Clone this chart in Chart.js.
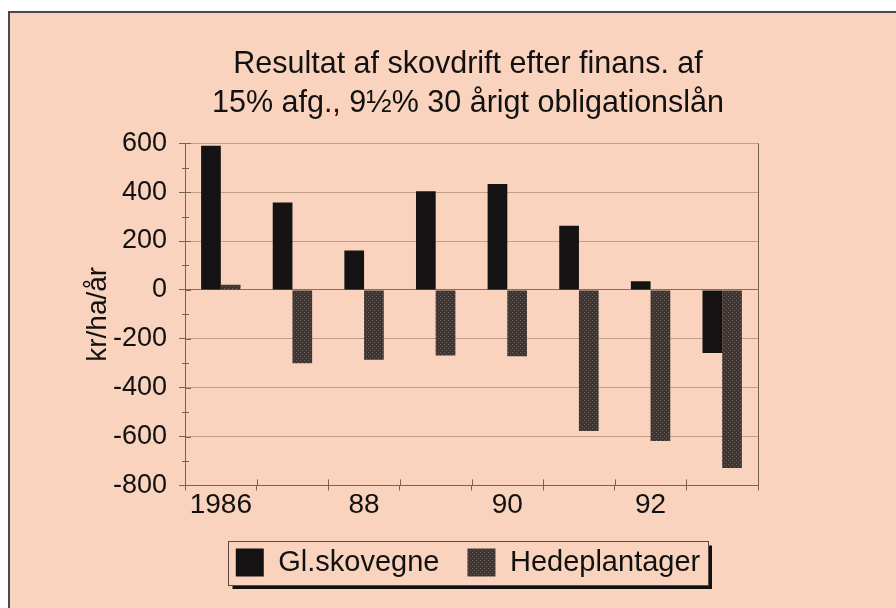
<!DOCTYPE html>
<html>
<head>
<meta charset="utf-8">
<script src="https://cdn.jsdelivr.net/npm/chart.js@4/dist/chart.umd.min.js"></script>
<style>
  body { margin: 0; background: #fff; }
  #wrap { width: 896px; height: 608px; }
</style>
</head>
<body>
<div id="wrap"><canvas id="myChart" width="896" height="608"></canvas></div>
<script>
// data
const categories = ['1986', '1987', '1988', '1989', '1990', '1991', '1992', '1993'];
const tickLabels = ['1986', '', '88', '', '90', '', '92', ''];
const glSkovegne = [590, 358, 161, 404, 433, 262, 35, -258];
const hedeplantager = [21, -300, -286, -268, -272, -577, -618, -729];
const yMin = -800;
const yMax = 600;
const yStep = 200;

const bg = '#f9d3bd';
const lineCol = '#7a6252';

// dotted dark fill for Hedeplantager
function makeHatch() {
    const c = document.createElement('canvas');
    c.width = 4;
    c.height = 4;
    const g = c.getContext('2d');
    g.fillStyle = '#3d3534';
    g.fillRect(0, 0, 4, 4);
    g.fillStyle = '#6e625d';
    g.fillRect(0, 0, 1, 1);
    g.fillRect(2, 2, 1, 1);
    return g.createPattern(c, 'repeat');
}

const framePlugin = {
    id: 'frame',
    beforeDraw(chart) {
        const ctx = chart.ctx;
        ctx.save();
        ctx.fillStyle = '#fff';
        ctx.fillRect(0, 0, chart.width, chart.height);
        ctx.fillStyle = bg;
        ctx.fillRect(8, 11, chart.width - 8, chart.height - 11);
        ctx.strokeStyle = '#4a4a4a';
        ctx.lineWidth = 2;
        ctx.beginPath();
        ctx.moveTo(9, chart.height);
        ctx.lineTo(9, 12);
        ctx.lineTo(chart.width, 12);
        ctx.stroke();
        ctx.restore();
    },
    afterDraw(chart) {
        const ctx = chart.ctx;
        const a = chart.chartArea;
        const y = chart.scales.y;
        ctx.save();
        ctx.strokeStyle = lineCol;
        ctx.lineWidth = 1;
        ctx.beginPath();
        // right border of plot
        ctx.moveTo(a.right + 0.5, a.top);
        ctx.lineTo(a.right + 0.5, a.bottom);
        // y ticks crossing into plot + minor ticks
        for (let v = yMin; v <= yMax; v += yStep / 2) {
            const py = Math.round(y.getPixelForValue(v)) + 0.5;
            const major = (v % yStep) === 0;
            ctx.moveTo(a.left - (major ? 0 : 3), py);
            ctx.lineTo(a.left + (major ? 6 : 4), py);
        }
        // x ticks crossing up into plot
        const n = categories.length;
        for (let i = 1; i < n; i++) {
            const px = Math.round(a.left + i * (a.right - a.left) / n) + 0.5;
            ctx.moveTo(px, a.bottom - 6);
            ctx.lineTo(px, a.bottom);
        }
        ctx.stroke();

        // legend frame with shadow
        const boxes = chart.legend.legendHitBoxes;
        if (boxes && boxes.length) {
            let l = Infinity, r = -Infinity, t = Infinity, b = -Infinity;
            boxes.forEach(h => {
                l = Math.min(l, h.left);
                r = Math.max(r, h.left + h.width);
                t = Math.min(t, h.top);
                b = Math.max(b, h.top + h.height);
            });
            l = Math.round(l - 8) + 0.5;
            r = Math.round(r + 8) + 0.5;
            t = Math.round(t - 7) + 0.5;
            b = Math.round(b + 8) + 0.5;
            ctx.strokeStyle = '#5a4a42';
            ctx.lineWidth = 1;
            ctx.strokeRect(l, t, r - l, b - t);
            ctx.strokeStyle = '#111';
            ctx.lineWidth = 3;
            ctx.beginPath();
            ctx.moveTo(l + 4, b + 2);
            ctx.lineTo(r + 2, b + 2);
            ctx.lineTo(r + 2, t + 4);
            ctx.stroke();
        }
        ctx.restore();
    }
};

const font = { family: 'Liberation Sans, Arial, sans-serif', size: 27 };

const ctx = document.getElementById('myChart').getContext('2d');
const myChart = new Chart(ctx, {
    type: 'bar',
    data: {
        labels: categories,
        datasets: [{
            label: 'Gl.skovegne',
            data: glSkovegne,
            backgroundColor: '#141212',
            borderWidth: 0
        }, {
            label: 'Hedeplantager',
            data: hedeplantager,
            backgroundColor: makeHatch(),
            borderWidth: 0
        }]
    },
    options: {
        responsive: false,
        animation: false,
        categoryPercentage: 0.55,
        barPercentage: 1.0,
        layout: {
            padding: { left: 40, right: 0, top: 0, bottom: 21 }
        },
        plugins: {
            title: {
                display: true,
                text: ['Resultat af skovdrift efter finans. af', '15% afg., 9½% 30 årigt obligationslån'],
                color: '#111',
                font: { family: font.family, size: 30.5, weight: 'normal', lineHeight: 1.25 },
                padding: { top: 46, bottom: 21 }
            },
            legend: {
                position: 'bottom',
                labels: {
                    color: '#111',
                    font: { family: font.family, size: 29 },
                    boxWidth: 28,
                    boxHeight: 28,
                    padding: 28
                }
            },
            tooltip: { enabled: false }
        },
        scales: {
            x: {
                grid: {
                    drawOnChartArea: false,
                    drawTicks: true,
                    tickLength: 5,
                    tickColor: lineCol
                },
                border: { color: lineCol },
                ticks: {
                    color: '#111',
                    font: { family: font.family, size: 28 },
                    autoSkip: false,
                    maxRotation: 0,
                    padding: -2,
                    callback: (v, i) => tickLabels[i]
                }
            },
            y: {
                min: yMin,
                max: yMax,
                afterFit: s => { s.width = 145; },
                grid: {
                    color: c => c.tick.value === 0 ? '#8a6e5c' : 'rgba(150,115,95,0.55)',
                    lineWidth: 1,
                    tickLength: 6,
                    tickColor: lineCol
                },
                border: { color: lineCol },
                ticks: {
                    stepSize: yStep,
                    color: '#111',
                    font: font,
                    padding: 12
                },
                title: {
                    display: true,
                    text: 'kr/ha/år',
                    color: '#111',
                    font: { family: font.family, size: 28 },
                    padding: { top: 41, bottom: 0 }
                }
            },
            y2: {
                type: 'linear',
                position: 'right',
                display: true,
                afterFit: s => { s.width = 138; },
                grid: { display: false },
                border: { display: false },
                ticks: { display: false }
            }
        }
    },
    plugins: [framePlugin]
});
</script>
</body>
</html>
